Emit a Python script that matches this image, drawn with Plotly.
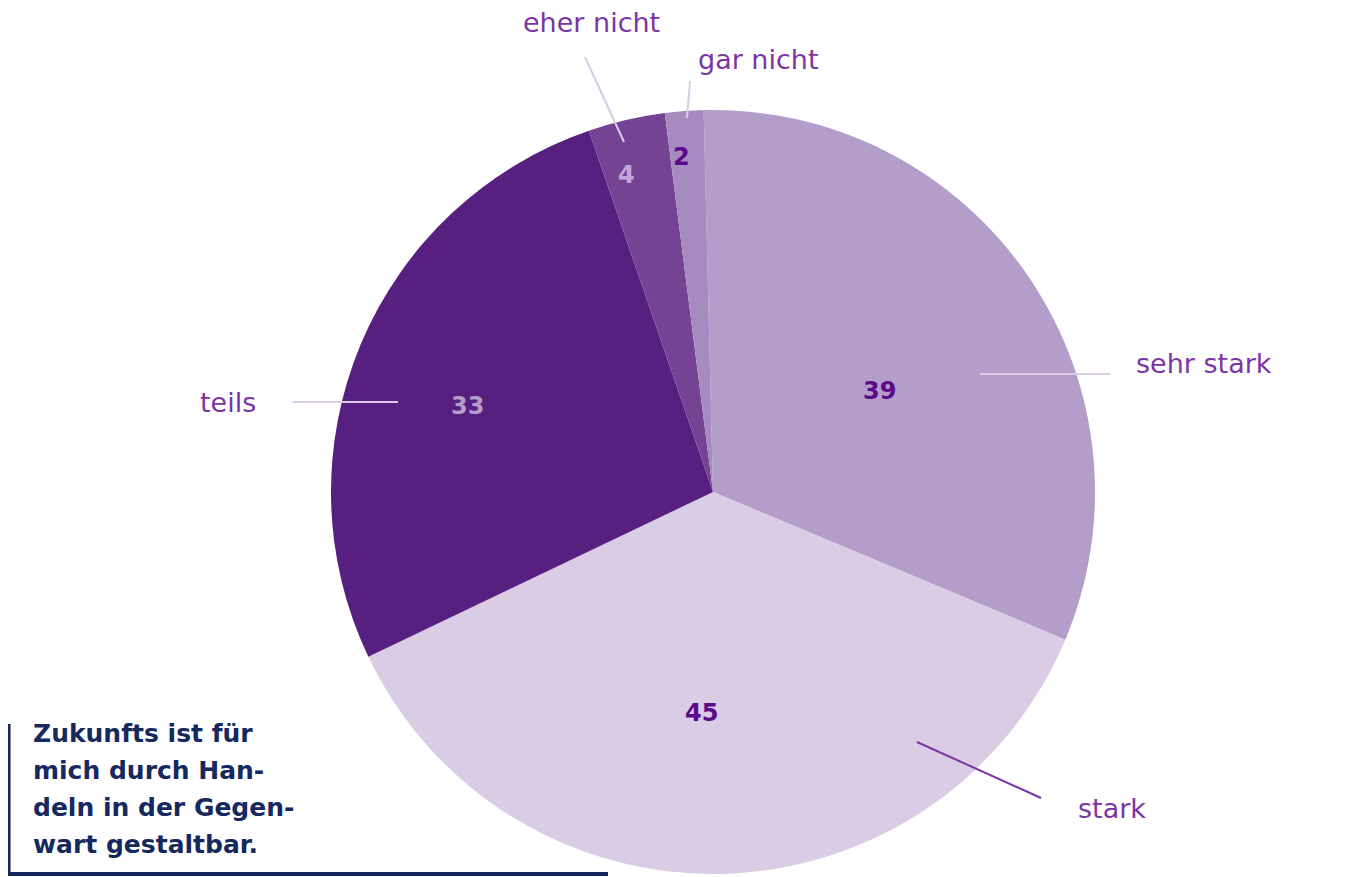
import math
import plotly.graph_objects as go

# ---- data ----
categories = ["sehr stark", "stark", "teils", "eher nicht", "gar nicht"]
values = [39, 45, 33, 4, 2]
value_labels = ["39", "45", "33", "4", "2"]
caption_lines = ["Zukunfts ist für", "mich durch Han-", "deln in der Gegen-", "wart gestaltbar."]

# ---- style ----
W, H = 1366, 877
OFF = 8  # page body margin offset
slice_colors = ["#b39dc9", "#d9cce4", "#561f80", "#744393", "#a68bc0"]
number_colors = ["#5a0a8a", "#5a0a8a", "#b39dc9", "#c0a9d6", "#5a0a8a"]
label_color = "#7b35a5"
navy = "#15295e"
rotation = -1.4
cx_px, cy_px, r_px = 713, 492, 382
# per-slice radial fraction and angle offset for inside numbers
num_rfrac = [0.51, 0.58, 0.68, 0.86, 0.88]
num_doff = [3.0, 4.3, -3.4, -2.1, -1.1]
# outside labels: (x, y) pixel anchor, xanchor; leader lines (x0,y0,x1,y1) and color
label_pos = [(1134, 364, "left"), (1076, 808, "left"), (258, 403, "right"),
             (521, 23, "left"), (696, 60, "left")]
leaders = [((980, 374, 1110, 374), "#d9cce4"), ((917, 742, 1041, 798), "#7b35a5"),
           ((293, 402, 398, 402), "#d9cce4"), ((585, 57, 624, 142), "#d9cce4"),
           ((690, 81, 687, 118), "#d9cce4")]


def px(x):
    return (x - OFF) / W


def py(y):
    return 1 - (y - OFF) / H


fig = go.Figure(go.Pie(
    labels=categories,
    values=values,
    sort=False,
    direction="clockwise",
    rotation=rotation,
    marker=dict(colors=slice_colors, line=dict(width=0)),
    textinfo="none",
    hoverinfo="label+value",
    showlegend=False,
    domain=dict(x=[px(cx_px - r_px), px(cx_px + r_px)],
                y=[py(cy_px + r_px), py(cy_px - r_px)]),
))

annotations = []
shapes = []
total = sum(values)
cum = 0
for i, v in enumerate(values):
    mid = rotation + (cum + v / 2) / total * 360 + num_doff[i]
    cum += v
    rr = r_px * num_rfrac[i]
    x = cx_px + rr * math.sin(math.radians(mid))
    y = cy_px - rr * math.cos(math.radians(mid))
    annotations.append(dict(
        x=px(x), y=py(y), xref="paper", yref="paper", text=value_labels[i],
        showarrow=False, xanchor="center", yanchor="middle",
        font=dict(family="DejaVu Sans", size=24, color=number_colors[i], weight=700)))
    lx, ly, xa = label_pos[i]
    annotations.append(dict(
        x=px(lx), y=py(ly), xref="paper", yref="paper", text=categories[i],
        showarrow=False, xanchor=xa, yanchor="middle",
        font=dict(family="DejaVu Sans", size=27, color=label_color)))
    (x0, y0, x1, y1), lc = leaders[i]
    shapes.append(dict(type="line", xref="paper", yref="paper",
                       x0=px(x0), y0=py(y0), x1=px(x1), y1=py(y1),
                       line=dict(color=lc, width=2)))

# caption block
for k, line in enumerate(caption_lines):
    annotations.append(dict(
        x=px(31), y=py(733 + k * 37.3), xref="paper", yref="paper", text=line,
        showarrow=False, xanchor="left", yanchor="middle",
        font=dict(family="DejaVu Sans", size=25, color=navy, weight=700)))
shapes.append(dict(type="line", xref="paper", yref="paper",
                   x0=px(9), y0=py(724), x1=px(9), y1=py(876),
                   line=dict(color=navy, width=3)))
shapes.append(dict(type="line", xref="paper", yref="paper",
                   x0=px(8), y0=py(874), x1=px(608), y1=py(874),
                   line=dict(color=navy, width=4)))

fig.update_layout(
    width=W, height=H,
    margin=dict(l=0, r=0, t=0, b=0),
    paper_bgcolor="white", plot_bgcolor="white",
    annotations=annotations, shapes=shapes,
)

fig.write_html("out.html")
